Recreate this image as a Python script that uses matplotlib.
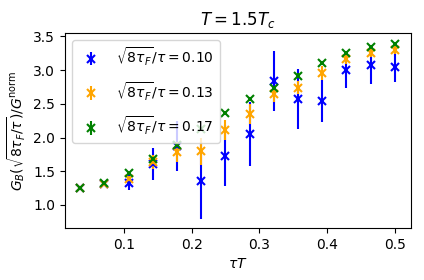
import matplotlib
matplotlib.use("Agg")
import matplotlib.pyplot as plt

tauT = [0.0357, 0.0714, 0.1071, 0.1429, 0.1786, 0.2143, 0.25,
        0.2857, 0.3214, 0.3571, 0.3929, 0.4286, 0.4643, 0.5]

# sqrt(8 tau_F)/tau = 0.10
g_010 = [1.25, 1.31, 1.33, 1.61, 1.88, 1.36, 1.73, 2.05, 2.84, 2.57, 2.54, 3.00, 3.07, 3.04]
e_010 = [0.02, 0.03, 0.11, 0.24, 0.37, 0.57, 0.45, 0.47, 0.45, 0.45, 0.31, 0.26, 0.27, 0.22]
# 0.13
g_013 = [1.25, 1.31, 1.38, 1.64, 1.79, 1.80, 2.11, 2.35, 2.64, 2.74, 2.96, 3.17, 3.26, 3.30]
e_013 = [0.01, 0.02, 0.05, 0.10, 0.15, 0.20, 0.15, 0.15, 0.12, 0.10, 0.10, 0.08, 0.07, 0.06]
# 0.17
g_017 = [1.25, 1.33, 1.47, 1.68, 1.89, 2.12, 2.36, 2.57, 2.74, 2.92, 3.11, 3.26, 3.34, 3.39]
e_017 = [0.01, 0.01, 0.02, 0.03, 0.03, 0.03, 0.03, 0.03, 0.03, 0.03, 0.03, 0.03, 0.03, 0.03]

labels = [r"$\sqrt{8\tau_F}/\tau=0.10$", r"$\sqrt{8\tau_F}/\tau=0.13$",
          r"$\sqrt{8\tau_F}/\tau=0.17$"]
colors = ["blue", "orange", "green"]

fig = plt.figure(figsize=(4.24, 2.8), dpi=100)
ax = fig.add_axes([0.153, 0.186, 0.816, 0.696])

for g, e, c, lab in zip([g_010, g_013, g_017], [e_010, e_013, e_017], colors, labels):
    ax.errorbar(tauT, g, yerr=e, fmt="x", color=c, ms=6, mew=1.5, lw=1.5, label=lab)

ax.set_xlim(0.013, 0.5236)
ax.set_ylim(0.66, 3.55)
ax.set_xticks([0.1, 0.2, 0.3, 0.4, 0.5])
ax.set_yticks([1.0, 1.5, 2.0, 2.5, 3.0, 3.5])
ax.set_xlabel(r"$\tau T$")
ax.set_ylabel(r"$G_B(\sqrt{8\tau_F/\tau})/G^{\rm norm}$")
ax.set_title(r"$T=1.5T_c$")
ax.legend(loc="upper left", labelspacing=0.85)

fig.savefig("out.png", dpi=100)
